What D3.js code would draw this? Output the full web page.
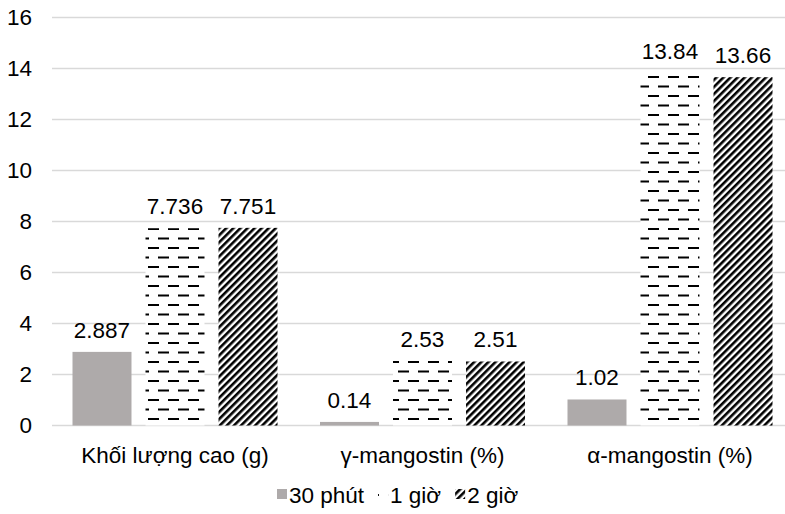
<!DOCTYPE html>
<html>
<head>
<meta charset="utf-8">
<script src="https://cdn.jsdelivr.net/npm/d3@7"></script>
<style>
  body { margin: 0; background: #fff; }
  text { font-family: "Liberation Sans", Arial, sans-serif; fill: #000; }
</style>
</head>
<body>
<div id="chart"></div>
<script>
const categories = ["Khối lượng cao (g)", "γ-mangostin (%)", "α-mangostin (%)"];
const seriesNames = ["30 phút", "1 giờ", "2 giờ"];
const val30 = [2.887, 0.14, 1.02];
const val1h = [7.736, 2.53, 13.84];
const val2h = [7.751, 2.51, 13.66];
const labels30 = ["2.887", "0.14", "1.02"];
const labels1h = ["7.736", "2.53", "13.84"];
const labels2h = ["7.751", "2.51", "13.66"];
const yTicks = [0, 2, 4, 6, 8, 10, 12, 14, 16];

const width = 785, height = 514;
const fontSize = 22.5;

const svg = d3.select("#chart").append("svg")
  .attr("width", width).attr("height", height);

const defs = svg.append("defs");
// dashed horizontal pattern for "1 giờ"
const dash = defs.append("pattern").attr("id", "dash")
  .attr("patternUnits", "userSpaceOnUse")
  .attr("width", 20).attr("height", 19)
  .attr("x", 148).attr("y", 0);
dash.append("rect").attr("width", 20).attr("height", 19).attr("fill", "#fff");
dash.append("rect").attr("x", 0).attr("y", 0).attr("width", 11).attr("height", 2).attr("fill", "#000");
dash.append("rect").attr("x", 10).attr("y", 9.5).attr("width", 11).attr("height", 2).attr("fill", "#000");
dash.append("rect").attr("x", -10).attr("y", 9.5).attr("width", 11).attr("height", 2).attr("fill", "#000");
// wide upward diagonal for "2 giờ"
const hatch = defs.append("pattern").attr("id", "hatch")
  .attr("patternUnits", "userSpaceOnUse")
  .attr("width", 5).attr("height", 5)
  .attr("patternTransform", "rotate(45)");
hatch.append("rect").attr("width", 5).attr("height", 5).attr("fill", "#fff");
hatch.append("rect").attr("width", 2.6).attr("height", 5).attr("fill", "#000");

const fills = ["#aeaaaa", "url(#dash)", "url(#hatch)"];

const y = d3.scaleLinear().domain([0, 16]).range([425.5, 17.5]);
const x0 = d3.scaleBand().domain(categories).range([51.25, 793.75]);
const x1 = d3.scaleBand().domain(seriesNames).range([0, x0.bandwidth()])
  .paddingInner(0.192).paddingOuter(0.291);

// gridlines + y labels
const yAxis = svg.append("g");
yAxis.selectAll("line").data(yTicks).enter().append("line")
  .attr("x1", 52).attr("x2", width)
  .attr("y1", d => y(d)).attr("y2", d => y(d))
  .attr("stroke", "#d9d9d9").attr("stroke-width", 1.3);
yAxis.selectAll("text").data(yTicks).enter().append("text")
  .attr("x", 32).attr("y", d => y(d)).attr("dy", "0.35em")
  .attr("text-anchor", "end").style("font-size", fontSize + "px")
  .text(d => d);

const seriesVals = [val30, val1h, val2h];
const seriesLabels = [labels30, labels1h, labels2h];
const rows = [];
seriesNames.forEach((s, si) => {
  categories.forEach((c, ci) => {
    rows.push({cat: c, series: s, si: si, value: seriesVals[si][ci], label: seriesLabels[si][ci]});
  });
});

const bars = svg.append("g");
bars.selectAll("rect").data(rows).enter().append("rect")
  .attr("x", d => x0(d.cat) + x1(d.series))
  .attr("y", d => y(d.value))
  .attr("width", x1.bandwidth())
  .attr("height", d => y(0) - y(d.value))
  .attr("fill", d => fills[d.si]);

bars.selectAll("text").data(rows).enter().append("text")
  .attr("x", d => x0(d.cat) + x1(d.series) + x1.bandwidth() / 2)
  .attr("y", d => y(d.value) - 14)
  .attr("text-anchor", "middle").style("font-size", fontSize + "px")
  .text(d => d.label);

// category labels
svg.append("g").selectAll("text").data(categories).enter().append("text")
  .attr("x", d => x0(d) + x0.bandwidth() / 2)
  .attr("y", 463)
  .attr("text-anchor", "middle").style("font-size", fontSize + "px")
  .text(d => d);

// legend
const legend = svg.append("g");
let lx = 277;
seriesNames.forEach((s, i) => {
  legend.append("rect").attr("x", lx).attr("y", 489).attr("width", 10).attr("height", 10)
    .attr("fill", fills[i]);
  const t = legend.append("text").attr("x", lx + 12).attr("y", 503)
    .style("font-size", fontSize + "px").text(s);
  lx += 12 + t.node().getComputedTextLength() + 14;
});
</script>
</body>
</html>
